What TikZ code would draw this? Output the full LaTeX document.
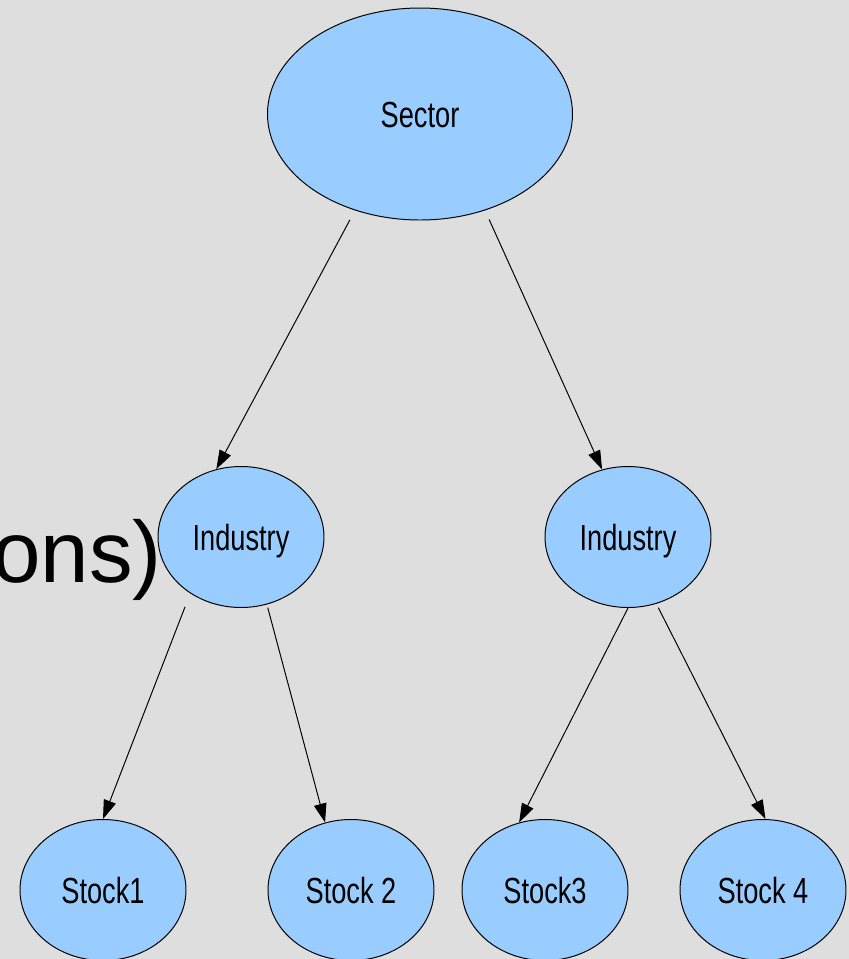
\documentclass[tikz,border=0pt]{standalone}
\usepackage{fontspec}
\setmainfont{Liberation Sans}
\newfontfamily\narrowfont[FakeStretch=0.75]{Liberation Sans}
\usetikzlibrary{shapes.geometric,arrows.meta}
\definecolor{bggray}{HTML}{DEDEDE}
\definecolor{nodeblue}{HTML}{99CCFF}

\begin{document}
\begin{tikzpicture}[>={Triangle[length=13.5pt,width=9pt]},
    oval/.style={ellipse,draw,fill=nodeblue,line width=.7pt,inner sep=0,
        text height=18.5pt,text depth=0pt,font=\narrowfont\fontsize{25.8}{30}\selectfont},
    bigoval/.style={oval,minimum width=7.625cm,minimum height=5.3cm},
    smalloval/.style={oval,minimum width=4.15cm,minimum height=3.525cm},
    link/.style={->,line width=.7pt}]
        \newcommand{\pw}{21.225}
        \newcommand{\ph}{-23.975}
        \newcommand{\rowy}{-22.25}
        \useasboundingbox(0,0)rectangle(\pw,\ph);
        \fill[bggray](0,0)rectangle(\pw,\ph);
        % leftover slide title, half hidden
        \node[anchor=base east,inner sep=0,font=\fontsize{62}{70}\selectfont](title)at(4.05,-14.55){ons)};
        \node[bigoval](sector)at(10.5,-2.85){Sector};
        \node[smalloval](indl)at(6.025,-13.425){Industry};
        \node[smalloval](indr)at(15.7,-13.425){Industry};
        \node[smalloval](stka)at(2.575,\rowy){Stock1};
        \node[smalloval](stkb)at(8.775,\rowy){Stock 2};
        \node[smalloval](stkc)at(13.625,\rowy){Stock3};
        \node[smalloval](stkd)at(19.075,\rowy){Stock 4};
        \draw[link,shorten <=.27cm](sector.236.5)--(indl.110);
        \draw[link,shorten <=.25cm](sector.304)--(indr.111);
        \draw[link,shorten <=.36cm](indl.228.5)--(stka.90);
        \draw[link,shorten <=.08cm](indl.291)--(stkb.111);
        \draw[link](indr.270)--(stkc.111);
        \draw[link,shorten <=.11cm](indr.293)--(stkd.88);
\end{tikzpicture}
\end{document}
